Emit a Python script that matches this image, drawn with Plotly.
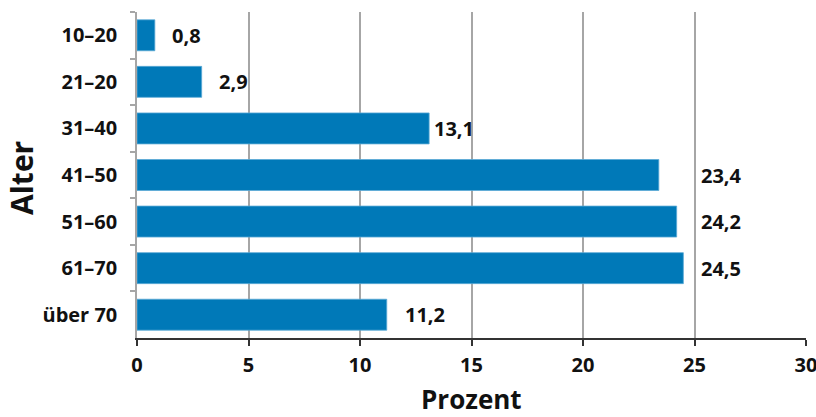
import plotly.graph_objects as go

categories = ["10–20", "21–20", "31–40", "41–50", "51–60", "61–70", "über 70"]
values = [0.8, 2.9, 13.1, 23.4, 24.2, 24.5, 11.2]
x_ticks = [0, 5, 10, 15, 20, 25, 30]

# label pixel offsets (style only)
label_shift = [15, 15, 3, 40, 22, 16, 16]

FONT = "Open Sans"
BAR = "#0079b8"
TXT = "#111"


def f(size):
    return dict(family=FONT, size=size, color=TXT, weight="bold")


fig = go.Figure()
fig.add_trace(go.Bar(
    x=values, y=categories, orientation="h",
    marker=dict(color=BAR, line=dict(color="#5aa9d6", width=0.8)),
    width=0.665, hoverinfo="skip",
))

for c, v, s in zip(categories, values, label_shift):
    fig.add_annotation(
        x=v, y=c, xref="x", yref="y", text=f"{v:.1f}".replace(".", ","),
        showarrow=False, xanchor="left", yanchor="middle", xshift=s,
        font=f(20),
    )

fig.add_annotation(
    x=0.5, y=0, xref="paper", yref="paper", text="Prozent", showarrow=False,
    xanchor="center", yanchor="middle", yshift=-61,
    font=f(26),
)
fig.add_annotation(
    x=0, y=0.5, xref="paper", yref="paper", text="Alter", showarrow=False,
    xanchor="center", yanchor="middle", xshift=-116, yshift=-3, textangle=-90,
    font=f(30),
)

fig.update_layout(
    width=816, height=417,
    margin=dict(l=137, r=10, t=12, b=79),
    plot_bgcolor="white", paper_bgcolor="white",
    showlegend=False,
    font=f(20),
    xaxis=dict(
        range=[0, 30], tickvals=x_ticks, ticktext=[str(t) for t in x_ticks],
        showgrid=True, gridcolor="#a6a6a6", gridwidth=1.5,
        showline=True, linecolor="#333", linewidth=2,
        ticks="outside", ticklen=6, tickcolor="#333", tickwidth=1.5,
        ticklabelstandoff=2, ticklabeloverflow="allow",
        tickfont=f(20),
        zeroline=False, fixedrange=True, automargin=False,
    ),
    yaxis=dict(
        categoryorder="array", categoryarray=categories, autorange="reversed",
        showline=True, linecolor="#a6a6a6", linewidth=1.5,
        ticks="outside", tickson="boundaries", ticklen=5, tickcolor="#a6a6a6", tickwidth=1.5,
        ticklabelstandoff=14,
        tickfont=f(20),
        showgrid=False, fixedrange=True, automargin=False,
    ),
)

fig.write_html("out.html")
